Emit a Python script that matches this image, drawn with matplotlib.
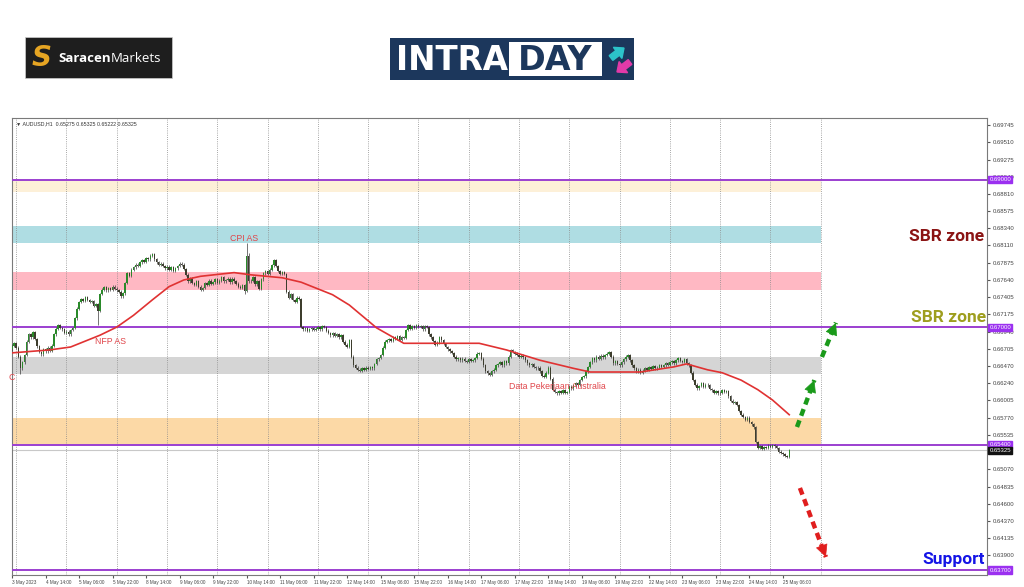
import numpy as np
import matplotlib.pyplot as plt
from matplotlib.patches import Rectangle, FancyArrow
import matplotlib.transforms as mtransforms

# AUDUSD H1, closes in pips (price * 10000), one per bar from 3 May 22:00
close_pips = [
    6675, 6678, 6672, 6660, 6644, 6652, 6662, 6680, 6690, 6686, 6693, 6684,
    6674, 6666, 6663, 6670, 6667, 6672, 6668, 6675, 6690, 6698, 6703, 6699,
    6697, 6692, 6694, 6690, 6696, 6699, 6712, 6725, 6734, 6738, 6736, 6741,
    6737, 6734, 6735, 6729, 6731, 6722, 6745, 6751, 6754, 6750, 6753, 6751,
    6755, 6752, 6750, 6748, 6742, 6746, 6760, 6773, 6770, 6778, 6781, 6785,
    6783, 6788, 6791, 6789, 6794, 6792, 6797, 6799, 6792, 6788, 6785, 6786,
    6783, 6780, 6782, 6778, 6781, 6776, 6780, 6783, 6786, 6785, 6779, 6771,
    6762, 6766, 6760, 6757, 6762, 6755, 6751, 6753, 6760, 6757, 6763, 6759,
    6761, 6765, 6760, 6763, 6768, 6762, 6764, 6766, 6761, 6766, 6762, 6759,
    6755, 6753, 6757, 6749, 6797, 6762, 6763, 6768, 6758, 6762, 6752, 6765,
    6773, 6776, 6772, 6778, 6784, 6791, 6783, 6776, 6772, 6775, 6772, 6748,
    6740, 6745, 6737, 6734, 6740, 6738, 6700, 6697, 6699, 6695, 6697, 6699,
    6696, 6698, 6700, 6697, 6701, 6700, 6695, 6692, 6689, 6692, 6688, 6690,
    6686, 6689, 6680, 6676, 6673, 6682, 6660, 6648, 6645, 6642, 6641, 6644,
    6642, 6645, 6643, 6646, 6644, 6650, 6656, 6658, 6662, 6672, 6680, 6682,
    6684, 6681, 6686, 6684, 6688, 6683, 6686, 6685, 6696, 6703, 6698, 6701,
    6699, 6703, 6700, 6701, 6697, 6701, 6700, 6690, 6686, 6681, 6676, 6679,
    6686, 6682, 6677, 6673, 6670, 6667, 6665, 6660, 6656, 6658, 6655, 6657,
    6654, 6653, 6656, 6654, 6655, 6658, 6664, 6665, 6657, 6648, 6640, 6637,
    6635, 6640, 6642, 6648, 6650, 6652, 6648, 6654, 6651, 6660, 6669, 6666,
    6664, 6662, 6660, 6661, 6659, 6655, 6651, 6648, 6650, 6646, 6644, 6645,
    6640, 6634, 6632, 6638, 6645, 6630, 6615, 6612, 6610, 6613, 6611, 6614,
    6611, 6612, 6619, 6617, 6621, 6624, 6622, 6628, 6632, 6633, 6640, 6646,
    6652, 6658, 6655, 6660, 6657, 6661, 6659, 6662, 6664, 6666, 6660, 6651,
    6654, 6650, 6648, 6652, 6656, 6660, 6662, 6655, 6648, 6644, 6640, 6642,
    6638, 6641, 6644, 6642, 6646, 6643, 6647, 6644, 6645, 6648, 6646, 6648,
    6651, 6649, 6652, 6654, 6651, 6655, 6658, 6654, 6653, 6656, 6651, 6648,
    6638, 6628, 6622, 6617, 6620, 6624, 6619, 6622, 6621, 6616, 6614, 6611,
    6613, 6610, 6611, 6614, 6612, 6613, 6606, 6600, 6597, 6598, 6594, 6586,
    6581, 6578, 6574, 6577, 6571, 6568, 6564, 6544, 6536, 6538, 6535, 6537,
    6536, 6539, 6537, 6540, 6538, 6536, 6531, 6529, 6527, 6525, 6524, 6532.5,
]
first_open = 6670
spike_high = {112: 6814, 113: 6800, 41: 6733}
spike_low = {4: 6636, 41: 6703, 111: 6745}

# moving average (bar, pips)
ma_bar = [0, 18, 28, 42, 50, 58, 67, 75, 82, 90, 106, 114, 129, 138, 153, 161,
          174, 187, 223, 236, 252, 268, 276, 300, 316, 322, 332, 339, 348, 356,
          363, 371]
ma_pips = [6665, 6669, 6673, 6689, 6700, 6716, 6737, 6755, 6764, 6769, 6774,
           6771, 6767, 6761, 6744, 6730, 6699, 6678, 6678, 6669, 6655, 6644,
           6639, 6639, 6646, 6650, 6642, 6638, 6628, 6615, 6601, 6581]

zone_lo = [0.68835, 0.68142, 0.67504, 0.66363, 0.65412]
zone_hi = [0.69000, 0.68373, 0.67750, 0.66590, 0.65761]
zone_colors = ['#fdf0d8', '#afdde3', '#ffb8c3', '#d5d5d5', '#fcd9a6']

levels = [0.69000, 0.67000, 0.65400, 0.63700]
last_price = 0.65325

y_ticks = [0.69745, 0.69510, 0.69275, 0.69040, 0.68810, 0.68575, 0.68340,
           0.68110, 0.67875, 0.67640, 0.67405, 0.67175, 0.66940, 0.66705,
           0.66470, 0.66240, 0.66005, 0.65770, 0.65535, 0.65070,
           0.64835, 0.64600, 0.64370, 0.64135, 0.63900]

x_labels = ['3 May 2023', '4 May 14:00', '5 May 06:00', '5 May 22:00',
            '8 May 14:00', '9 May 06:00', '9 May 22:00', '10 May 14:00',
            '11 May 06:00', '11 May 22:00', '12 May 14:00', '15 May 06:00',
            '15 May 22:00', '16 May 14:00', '17 May 06:00', '17 May 22:00',
            '18 May 14:00', '19 May 06:00', '19 May 22:00', '22 May 14:00',
            '23 May 06:00', '23 May 22:00', '24 May 14:00', '25 May 06:00']

# ---- build OHLC
c = np.array(close_pips) / 10000.0
o = np.concatenate([[first_open / 10000.0], c[:-1]])
hi = np.maximum(o, c) + 0.00018
lo = np.minimum(o, c) - 0.00018
for k, v in spike_high.items():
    hi[k] = v / 10000.0
for k, v in spike_low.items():
    lo[k] = v / 10000.0
bars = np.arange(len(c))

fig = plt.figure(figsize=(10.24, 5.87), dpi=100)
fig.patch.set_facecolor('white')
ax = fig.add_axes([12 / 1024, 1 - 575 / 587, 975 / 1024, 457 / 587])
ax.set_xlim(0, 465.4)
ax.set_ylim(0.63633, 0.69840)

zone_end = 386
for lo_, hi_, col in zip(zone_lo, zone_hi, zone_colors):
    ax.add_patch(Rectangle((0, lo_), zone_end, hi_ - lo_, facecolor=col,
                           edgecolor='none', zorder=0.5))

for b in range(2, 387, 24):
    ax.axvline(b, color='#8a8a8a', ls=(0, (1, 1.6)), lw=0.6, zorder=1)

for lvl in levels:
    ax.axhline(lvl, color='#9b3fd0', lw=1.4, zorder=3)
ax.axhline(last_price, color='#c8c8c8', lw=0.8, zorder=2)

# candles
up = c >= o
ax.vlines(bars, lo, hi, color='#3c3c3c', lw=0.5, zorder=4)
body = np.where(np.abs(c - o) < 0.00003, 0.00003, c - o)
ax.bar(bars, body, bottom=o, width=0.7,
       color=np.where(up, '#2a8a2a', '#3d3d2d'), edgecolor='none', zorder=5)

ax.plot(ma_bar, np.array(ma_pips) / 10000.0, color='#e03232', lw=1.2, zorder=6)

# event labels
ev_font = dict(family='Liberation Sans', color='#e0454a', fontsize=6.3, zorder=7)
ax.text(111, 0.68197, 'CPI AS', ha='center', va='center', **ev_font)
ax.text(47, 0.66802, 'NFP AS', ha='center', va='center', **ev_font)
ax.text(260.5, 0.66190, 'Data Pekerjaan Australia', ha='center', va='center',
        **ev_font)
ax.text(0, 0.66322, 'C', ha='center', va='center', **ev_font)

# header
ax.text(0.004, 0.992, '\u25BC AUDUSD,H1  0.65275 0.65325 0.65222 0.65325',
        transform=ax.transAxes, fontsize=3.8, color='#333333', va='top',
        family='Liberation Sans')

# zone captions
cap = dict(family='Roboto', fontweight='bold', fontsize=12.5, ha='center',
           va='center', zorder=8)
ax.text(446, 0.68224, 'SBR zone', color='#8b1414', **cap)
ax.text(447, 0.67130, 'SBR zone', color='#9e9e1e', **cap)
ax.text(449.5, 0.63843, 'Support', color='#1414e6', **cap)

# scenario arrows
def dashed_arrow(x0, y0, x1, y1, col):
    ax.plot([x0, x1], [y0, y1], color=col, lw=3.2, ls=(0, (1.6, 1.1)),
            solid_capstyle='butt', zorder=8)
    ax.annotate('', xy=(x1, y1), xytext=(x0 + (x1 - x0) * 0.8, y0 + (y1 - y0) * 0.8),
                arrowprops=dict(arrowstyle='-|>,head_length=0.8,head_width=0.4',
                                color=col, lw=0.5, shrinkA=0, shrinkB=0), zorder=9)

dashed_arrow(374.7, 0.65643, 383.0, 0.66280, '#1a9a1a')
dashed_arrow(386.6, 0.66594, 393.3, 0.67060, '#1a9a1a')
dashed_arrow(376.1, 0.64815, 388.5, 0.63877, '#e01e1e')

# axes styling
for s in ax.spines.values():
    s.set_color('#7a7a7a')
    s.set_linewidth(0.8)
ax.yaxis.tick_right()
ax.set_yticks(y_ticks)
ax.set_yticklabels(['%.5f' % v for v in y_ticks], family='Liberation Sans')
ax.set_xticks(np.arange(0, 16 * len(x_labels), 16))
ax.set_xticklabels(x_labels, ha='left', family='Liberation Sans')
ax.tick_params(axis='y', labelsize=4.3, length=2.5, pad=1.5, colors='#555555',
               labelcolor='#444444')
ax.tick_params(axis='x', labelsize=3.3, length=2, pad=1.5, colors='#555555',
               labelcolor='#444444')

trans = mtransforms.blended_transform_factory(ax.transAxes, ax.transData)
for lvl in levels:
    ax.text(1.0025, lvl, '%.5f' % lvl, transform=trans, ha='left', va='center',
            fontsize=4.3, color='white', clip_on=False, zorder=10,
            family='Liberation Sans',
            bbox=dict(boxstyle='square,pad=0.18', fc='#9b30f0', ec='#9b30f0'))
ax.text(1.0025, last_price, '%.5f' % last_price, transform=trans, ha='left',
        va='center', fontsize=4.3, color='white', clip_on=False, zorder=10,
        family='Liberation Sans',
        bbox=dict(boxstyle='square,pad=0.18', fc='#111111', ec='#111111'))

# ---- logos (pixel overlay)
ov = fig.add_axes([0, 0, 1, 1])
ov.set_xlim(0, 1024)
ov.set_ylim(587, 0)
ov.axis('off')
ov.patch.set_visible(False)

ov.add_patch(Rectangle((25, 37), 147, 41, facecolor='#1e1e1e', edgecolor='#cccccc', lw=0.5))
ov.text(42, 58, 'S', color='#e6a523', fontsize=20, fontweight='heavy',
        style='italic', ha='center', va='center', family='DejaVu Sans')
t1 = ov.text(58, 58, 'Saracen', color='white', fontsize=9.5, fontweight='bold',
             family='Open Sans', ha='left', va='center')
ov.annotate('Markets', xy=(1, 0.5), xycoords=t1, color='white', fontsize=9.5,
            family='Open Sans', ha='left', va='center')

ov.add_patch(Rectangle((390, 38), 244, 42, facecolor='#1c375c', edgecolor='none'))
ov.add_patch(Rectangle((509, 42), 93, 34, facecolor='white', edgecolor='none'))
ov.text(396, 60, 'INTRA', color='white', fontsize=23.5, fontweight='bold',
        family='DejaVu Sans', ha='left', va='center')
ov.text(555, 60, 'DAY', color='#1c375c', fontsize=24, fontweight='bold',
        family='DejaVu Sans', ha='center', va='center')
ov.add_patch(FancyArrow(611, 58, 13, -10, width=6, head_width=14, head_length=8,
                        length_includes_head=True, color='#2cc3c9'))
ov.add_patch(FancyArrow(630, 62, -13, 10, width=6, head_width=14, head_length=8,
                        length_includes_head=True, color='#e23aa8'))

fig.savefig('out.png', dpi=100)
